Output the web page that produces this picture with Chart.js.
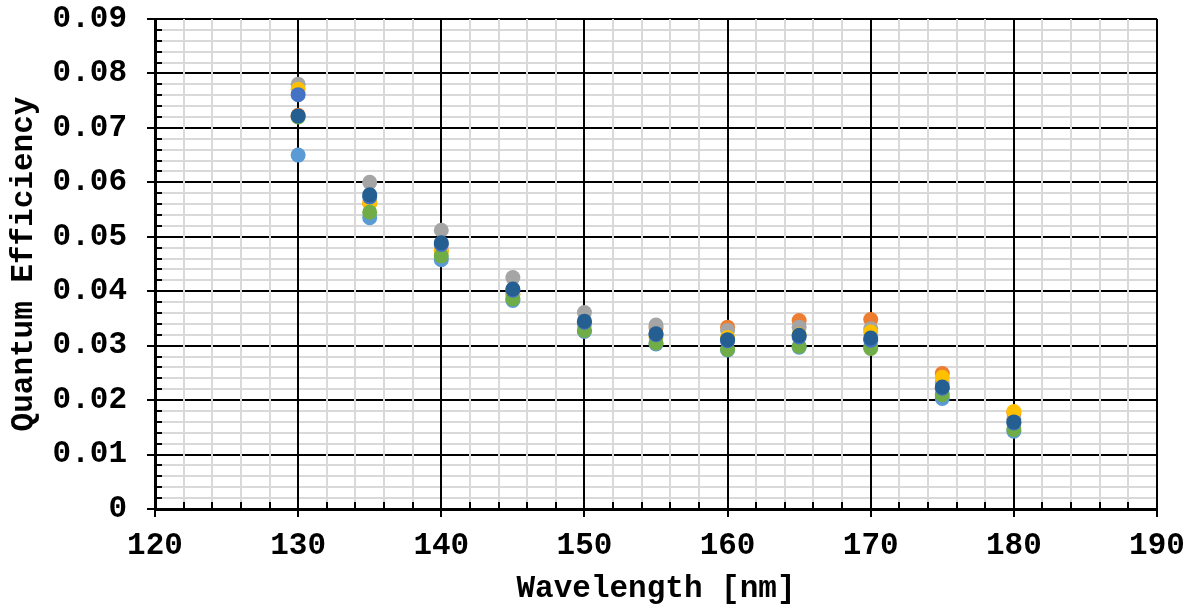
<!DOCTYPE html>
<html>
<head>
<meta charset="utf-8">
<script src="https://cdn.jsdelivr.net/npm/chart.js@4.4.1/dist/chart.umd.min.js"></script>
<style>
  html, body { margin: 0; padding: 0; background: #ffffff; }
  #wrap { width: 1188px; height: 606px; position: relative; }
</style>
</head>
<body>
<div id="wrap"><canvas id="c"></canvas></div>
<script>
// Wavelengths [nm]
const wavelengths = [130, 135, 140, 145, 150, 155, 160, 165, 170, 175, 180];

// Series values (quantum efficiency)
const seriesDarkBlue  = [0.0722, 0.0577, 0.0489, 0.0404, 0.0345, 0.0322, 0.0311, 0.0319, 0.0314, 0.0224, 0.0160];
const seriesBlue      = [0.0761, 0.0573, 0.0486, 0.0402, 0.0343, 0.0320, 0.0309, 0.0316, 0.0310, 0.0222, 0.0158];
const seriesGreen     = [0.0720, 0.0545, 0.0465, 0.0386, 0.0328, 0.0305, 0.0293, 0.0299, 0.0295, 0.0210, 0.0146];
const seriesLightBlue = [0.0650, 0.0535, 0.0458, 0.0383, 0.0326, 0.0303, 0.0292, 0.0297, 0.0298, 0.0203, 0.0143];
const seriesYellow    = [0.0771, 0.0561, 0.0474, 0.0394, 0.0338, 0.0316, 0.0315, 0.0320, 0.0325, 0.0242, 0.0179];
const seriesGray      = [0.0780, 0.0600, 0.0512, 0.0425, 0.0361, 0.0338, 0.0328, 0.0334, 0.0331, 0.0232, 0.0165];
const seriesOrange    = [0.0723, 0.0562, 0.0475, 0.0395, 0.0340, 0.0333, 0.0334, 0.0346, 0.0348, 0.0249, 0.0177];

// Axis settings
const xMin = 120, xMax = 190, xMajor = 10, xMinor = 2;
const yMin = 0, yMax = 0.09, yMajor = 0.01, yMinor = 0.002;
const xTitle = 'Wavelength [nm]';
const yTitle = 'Quantum Efficiency';

const FONT = '"Courier New", "Liberation Mono", monospace';
const FSIZE = 31;

function toPoints(vals) {
  return wavelengths.map((w, i) => ({ x: w, y: vals[i] }));
}
function isMajor(v, step) {
  const r = v / step;
  return Math.abs(r - Math.round(r)) < 1e-6;
}

// Dataset 0 is drawn on top in Chart.js
const seriesList = [
  { name: 'S7', data: seriesDarkBlue,  color: '#255E91' },
  { name: 'S1', data: seriesBlue,      color: '#4472C4' },
  { name: 'S6', data: seriesGreen,     color: '#70AD47' },
  { name: 'S5', data: seriesLightBlue, color: '#5B9BD5' },
  { name: 'S4', data: seriesYellow,    color: '#FFC000' },
  { name: 'S3', data: seriesGray,      color: '#A5A5A5' },
  { name: 'S2', data: seriesOrange,    color: '#ED7D31' }
];

const innerTicks = {
  id: 'innerTicks',
  beforeDatasetsDraw(chart) {
    const ctx = chart.ctx;
    const xs = chart.scales.x, ys = chart.scales.y;
    const a = chart.chartArea;
    ctx.save();
    ctx.strokeStyle = '#000';
    ctx.lineWidth = 2;
    ctx.beginPath();
    ys.ticks.forEach(t => {
      const py = Math.round(ys.getPixelForValue(t.value));
      ctx.moveTo(a.left, py);
      ctx.lineTo(a.left + 7, py);
    });
    xs.ticks.forEach(t => {
      const px = Math.round(xs.getPixelForValue(t.value));
      ctx.moveTo(px, a.bottom);
      ctx.lineTo(px, a.bottom - 7);
    });
    ctx.stroke();
    ctx.restore();
  }
};

new Chart(document.getElementById('c'), {
  type: 'scatter',
  data: {
    datasets: seriesList.map(s => ({
      label: s.name,
      data: toPoints(s.data),
      backgroundColor: s.color,
      borderColor: s.color,
      borderWidth: 0,
      pointRadius: 7.5,
      pointHoverRadius: 7.5,
      showLine: false
    }))
  },
  options: {
    responsive: true,
    maintainAspectRatio: false,
    animation: false,
    events: [],
    layout: { padding: 0 },
    plugins: { legend: { display: false }, tooltip: { enabled: false } },
    scales: {
      y: {
        type: 'linear',
        min: yMin, max: yMax,
        afterFit(scale) {
          scale.width = 155;
          scale.paddingTop = 19;
          scale.paddingBottom = 0;
        },
        ticks: {
          stepSize: yMinor,
          autoSkip: false,
          padding: 20,
          color: '#000',
          font: { family: FONT, size: FSIZE, weight: 'bold', lineHeight: 1.25 },
          callback(v) {
            if (!isMajor(v, yMajor)) return '';
            return Math.abs(v) < 1e-9 ? '0' : v.toFixed(2);
          }
        },
        grid: {
          color: c => isMajor(c.tick.value, yMajor) ? '#000000' : '#d9d9d9',
          lineWidth: 2,
          tickLength: 8,
          tickWidth: 2,
          tickColor: c => isMajor(c.tick.value, yMajor) ? '#000000' : 'rgba(0,0,0,0)'
        },
        border: { color: '#000', width: 3 },
        title: {
          display: true,
          text: yTitle,
          color: '#000',
          font: { family: FONT, size: FSIZE, weight: 'bold', lineHeight: 1 },
          padding: { top: 9, bottom: 0 }
        }
      },
      x: {
        type: 'linear',
        min: xMin, max: xMax,
        afterFit(scale) {
          scale.height = 97;
          scale.paddingLeft = 0;
          scale.paddingRight = 31;
        },
        ticks: {
          stepSize: xMinor,
          autoSkip: false,
          maxRotation: 0,
          padding: 11,
          color: '#000',
          font: { family: FONT, size: FSIZE, weight: 'bold' },
          callback(v) {
            return isMajor(v, xMajor) ? String(Math.round(v)) : '';
          }
        },
        grid: {
          color: c => isMajor(c.tick.value, xMajor) ? '#000000' : '#d9d9d9',
          lineWidth: 2,
          tickLength: 8,
          tickWidth: 2,
          tickColor: c => isMajor(c.tick.value, xMajor) ? '#000000' : 'rgba(0,0,0,0)'
        },
        border: { color: '#000', width: 3 },
        title: {
          display: true,
          text: xTitle,
          color: '#000',
          font: { family: FONT, size: FSIZE, weight: 'bold', lineHeight: 1 },
          padding: { top: 0, bottom: 1 }
        }
      }
    }
  },
  plugins: [innerTicks]
});
</script>
</body>
</html>
